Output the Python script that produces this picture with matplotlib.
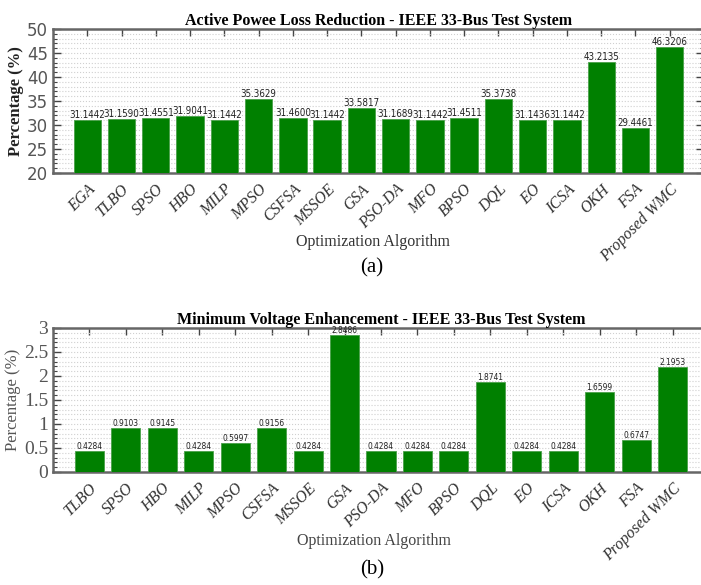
import matplotlib.pyplot as plt
from matplotlib.ticker import MultipleLocator, FormatStrFormatter

# Datos (a): reduccion de perdidas de potencia activa
algos_a = ['EGA', 'TLBO', 'SPSO', 'HBO', 'MILP', 'MPSO', 'CSFSA', 'MSSOE', 'GSA',
           'PSO-DA', 'MFO', 'BPSO', 'DQL', 'EO', 'ICSA', 'OKH', 'FSA', 'Proposed WMC']
loss_a = [31.1442, 31.1590, 31.4551, 31.9041, 31.1442, 35.3629, 31.4600, 31.1442, 33.5817,
          31.1689, 31.1442, 31.4511, 35.3738, 31.1436, 31.1442, 43.2135, 29.4461, 46.3206]

# Datos (b): mejora de tension minima
algos_b = ['TLBO', 'SPSO', 'HBO', 'MILP', 'MPSO', 'CSFSA', 'MSSOE', 'GSA', 'PSO-DA',
           'MFO', 'BPSO', 'DQL', 'EO', 'ICSA', 'OKH', 'FSA', 'Proposed WMC']
volt_b = [0.4284, 0.9103, 0.9145, 0.4284, 0.5997, 0.9156, 0.4284, 2.8486, 0.4284,
          0.4284, 0.4284, 1.8741, 0.4284, 0.4284, 1.6599, 0.6747, 2.1953]

BAR_COLOR = '#008000'
SERIF = 'Liberation Serif'


def draw_panel(ax, names, vals, ylim, major, minor, title, tick_font, tick_size,
               ylab_color, ylab_weight, lab_size):
    x = list(range(1, len(names) + 1))
    # las barras arrancan desde el limite inferior del eje
    heights = [v - ylim[0] for v in vals]
    ax.bar(x, heights, width=0.8, bottom=ylim[0], color=BAR_COLOR,
           edgecolor='#4aa04a', linewidth=0.6, zorder=3)
    for xi, v in zip(x, vals):
        ax.text(xi, v, f'{v:.4f}', ha='center', va='bottom', fontsize=lab_size,
                family='DejaVu Sans', color='#222222', fontstretch='condensed', zorder=4)
    ax.set_xlim(0, len(names) + 1)
    ax.set_ylim(*ylim)
    ax.yaxis.set_major_locator(MultipleLocator(major))
    ax.yaxis.set_minor_locator(MultipleLocator(minor))
    ax.yaxis.set_major_formatter(FormatStrFormatter('%g'))
    ax.set_xticks(x)
    ax.set_xticklabels(names, rotation=45, ha='right', va='top', rotation_mode='anchor',
                       family=SERIF, style='italic', fontsize=11.5, color='#333333')
    ax.tick_params(axis='x', direction='in', length=5, width=1, color='#444444',
                   top=True, bottom=True, pad=6)
    ax.tick_params(axis='y', which='major', direction='in', length=6, width=1,
                   color='#444444', left=True, right=True, labelsize=tick_size,
                   labelcolor='#555555')
    ax.tick_params(axis='y', which='minor', direction='in', length=3, width=0.8,
                   color='#444444', left=True, right=True)
    for lab in ax.get_yticklabels():
        lab.set_family(tick_font)
    ax.grid(True, which='both', axis='y', linestyle=':', color='#d0d0d0', linewidth=0.8, zorder=0)
    for s in ax.spines.values():
        s.set_color('#666666')
        s.set_linewidth(1.8)
    ax.set_title(title, family=SERIF, fontweight='bold', fontsize=11.5, pad=3)
    ax.set_ylabel('Percentage (%)', family=SERIF, fontsize=12, color=ylab_color,
                  fontweight=ylab_weight, labelpad=2)


def main():
    fig = plt.figure(figsize=(7.01, 5.85), dpi=100)

    ax1 = fig.add_axes([53 / 701, 1 - 173 / 585, 651 / 701, 144 / 585])
    draw_panel(ax1, algos_a, loss_a, (20, 50), 5, 1,
               'Active Powee Loss Reduction - IEEE 33-Bus Test System',
               'DejaVu Sans', 12, '#222222', 'bold', 7)
    fig.text(373 / 701, 1 - 242 / 585, 'Optimization Algorithm', family=SERIF,
             fontsize=11.5, color='#333333', ha='center', va='center')
    fig.text(372 / 701, 1 - 268 / 585, '(a)', family=SERIF, fontsize=15,
             ha='center', va='center')

    ax2 = fig.add_axes([53 / 701, 1 - 472 / 585, 656 / 701, 144 / 585])
    draw_panel(ax2, algos_b, volt_b, (0, 3), 0.5, 0.1,
               'Minimum Voltage Enhancement - IEEE 33-Bus Test System',
               SERIF, 14, '#555555', 'normal', 6)
    fig.text(374 / 701, 1 - 541 / 585, 'Optimization Algorithm', family=SERIF,
             fontsize=11.5, color='#444444', ha='center', va='center')
    fig.text(372 / 701, 1 - 570 / 585, '(b)', family=SERIF, fontsize=15,
             ha='center', va='center')

    fig.savefig('out.png', dpi=100)


if __name__ == '__main__':
    main()
